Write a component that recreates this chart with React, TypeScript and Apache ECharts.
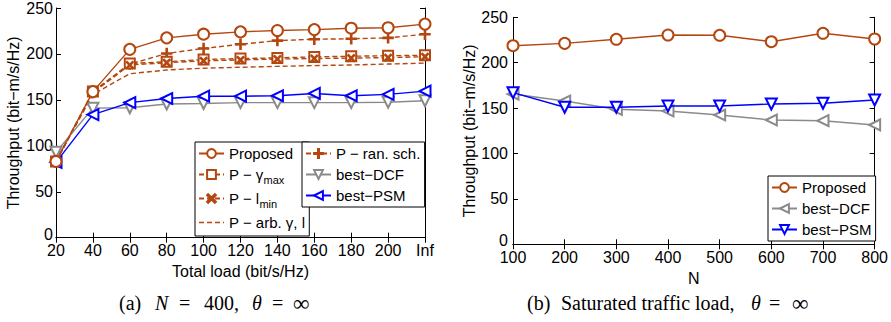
import React, { useEffect, useRef } from "react";
import * as echarts from "echarts";

// ---------- data ----------
const loadCats = ["20", "40", "60", "80", "100", "120", "140", "160", "180", "200", "Inf"];
const proposedA = [83, 159, 205, 217.5, 221.5, 224, 225.5, 226.5, 228, 228.5, 232.5];
const gammaMaxA = [83, 159, 189.5, 191.5, 194, 195, 195.7, 196.8, 197.5, 198, 198.6];
const lMinA = [83, 158, 188, 190.5, 192.5, 193.5, 194.5, 195, 195.5, 196, 197];
const arbA = [83, 156, 178.5, 182.5, 184.5, 185.5, 186.5, 187.3, 188, 189, 190];
const ranSchA = [83, 158, 189, 200.5, 206, 210.5, 214.5, 216, 216.5, 217.5, 221.5];
const dcfA = [93, 141, 141.5, 145.5, 146, 147, 147, 147, 147, 147.5, 149];
const psmA = [82, 134, 147, 151.5, 154, 154, 154.5, 157, 154.5, 156, 159.5];

const nValues = [100, 200, 300, 400, 500, 600, 700, 800];
const proposedB = [218.7, 221.3, 225.8, 230.5, 230.2, 223.1, 232.4, 226.1];
const dcfB = [165.5, 157.8, 148.7, 146.8, 142.4, 136.9, 136.1, 131.4];
const psmB = [167, 150.9, 150.9, 152.3, 152.3, 154.5, 155.3, 158.9];

const yTicks = { min: 0, max: 250, interval: 50 };

const NAME_PROP = "Proposed";
const NAME_GMAX = "P − γmax";
const NAME_LMIN = "P − lmin";
const NAME_ARB = "P − arb. γ, l";
const NAME_RAN = "P − ran. sch.";
const NAME_DCF = "best−DCF";
const NAME_PSM = "best−PSM";

const BROWN = "#b3470f";
const GRAY = "#8a8a8a";
const BLUE = "#0000ff";
const SANS = "'Liberation Sans', Arial, sans-serif";
const SERIF = "'Liberation Serif', 'Times New Roman', serif";

const X_MARK = "path://M0,1.2L1.2,0L5,3.8L8.8,0L10,1.2L6.2,5L10,8.8L8.8,10L5,6.2L1.2,10L0,8.8L3.8,5Z";
const PLUS_MARK = "path://M4.4,0H5.6V4.4H10V5.6H5.6V10H4.4V5.6H0V4.4H4.4Z";
const DASH_ICON =
  "path://M0,0h0.01v0.01h-0.01z M25,11h0.01v0.01h-0.01z M0,4.8h5v1.4H0z M8,4.8h5v1.4H8z M16,4.8h5v1.4h-5z M24,4.8h1v1.4h-1z";

export default function App() {
  const ref = useRef<HTMLDivElement>(null);
  useEffect(() => {
    if (!ref.current) return;
    const chart = echarts.init(ref.current, null, { renderer: "svg" });

    const axisLine = { show: true, lineStyle: { color: "#000", width: 1 } };
    const tickIn = { show: true, inside: true, length: 5, lineStyle: { color: "#000" } };
    const lbl = { color: "#000", fontSize: 16, fontFamily: SANS };
    const yLbl = {
      ...lbl,
      formatter: (v: number) => (v === 0 ? "{z|0}" : String(v)),
      rich: { z: { color: "#000", fontSize: 16, fontFamily: SANS, padding: [0, 0, 7, 0] } },
    };
    const nameStyle = { color: "#000", fontSize: 16, fontFamily: SANS };

    const legendBase = {
      orient: "vertical" as const,
      backgroundColor: "#fff",
      borderColor: "#000",
      borderWidth: 1,
      borderRadius: 0,
      itemWidth: 25,
      itemHeight: 11,
      itemGap: 6,
      textStyle: {
        color: "#000",
        fontSize: 15,
        fontFamily: SANS,
        rich: {
          t: { fontSize: 15, fontFamily: SANS, color: "#000" },
          s: { fontSize: 11, fontFamily: SANS, color: "#000", padding: [10, 0, 0, 0] },
        },
      },
      formatter: (name: string) => {
        if (name === NAME_GMAX) return "{t|P − γ}{s|max}";
        if (name === NAME_LMIN) return "{t|P − l}{s|min}";
        return name.trim();
      },
    };

    const lineS = (
      name: string,
      data: any[],
      color: string,
      symbol: string,
      opts: any = {}
    ) => ({
      name,
      type: "line",
      data,
      symbol,
      symbolSize: opts.size ?? 11,
      symbolRotate: opts.rotate ?? 0,
      showSymbol: symbol !== "none",
      xAxisIndex: opts.xi ?? 0,
      yAxisIndex: opts.yi ?? 0,
      z: opts.z ?? 2,
      lineStyle: { color, width: 1.4, type: opts.dash ? [5, 3] : "solid" },
      itemStyle: { color, borderColor: color, borderWidth: 1.4 },
      emphasis: { disabled: true },
    });

    const cap = (text: string, x: number, italic = false, size = 20) => ({
      type: "text",
      x,
      y: 303,
      style: {
        text,
        align: "left",
        verticalAlign: "middle",
        fontFamily: SERIF,
        fontSize: size,
        fontStyle: italic ? "italic" : "normal",
        fill: "#000",
      },
    });

    const option: any = {
      animation: false,
      backgroundColor: "#fff",
      grid: [
        { left: 56, right: 466, top: 7.5, bottom: 84.3 },
        { left: 513, right: 10, top: 17.3, bottom: 77.7 },
      ],
      xAxis: [
        {
          type: "category",
          gridIndex: 0,
          data: loadCats,
          boundaryGap: false,
          axisLine,
          axisTick: { ...tickIn, alignWithLabel: true },
          axisLabel: { ...lbl, margin: 5, interval: 0 },
          splitLine: { show: false },
          name: "Total load (bit/s/Hz)",
          nameLocation: "middle",
          nameGap: 20,
          nameTextStyle: nameStyle,
        },
        {
          type: "category",
          gridIndex: 0,
          position: "top",
          data: loadCats,
          boundaryGap: false,
          axisLine,
          axisTick: tickIn,
          axisLabel: { show: false },
          splitLine: { show: false },
        },
        {
          type: "value",
          gridIndex: 1,
          min: 100,
          max: 800,
          interval: 100,
          axisLine,
          axisTick: tickIn,
          axisLabel: { ...lbl, margin: 5 },
          splitLine: { show: false },
          name: "N",
          nameLocation: "middle",
          nameGap: 21,
          nameTextStyle: nameStyle,
        },
        {
          type: "value",
          gridIndex: 1,
          position: "top",
          min: 100,
          max: 800,
          interval: 100,
          axisLine,
          axisTick: tickIn,
          axisLabel: { show: false },
          splitLine: { show: false },
        },
      ],
      yAxis: [
        {
          type: "value",
          gridIndex: 0,
          ...yTicks,
          axisLine,
          axisTick: tickIn,
          axisLabel: { ...yLbl, margin: 3 },
          splitLine: { show: false },
          name: "Throughput (bit−m/s/Hz)",
          nameLocation: "middle",
          nameGap: 35,
          nameTextStyle: nameStyle,
        },
        {
          type: "value",
          gridIndex: 0,
          position: "right",
          ...yTicks,
          axisLine,
          axisTick: tickIn,
          axisLabel: { show: false },
          splitLine: { show: false },
        },
        {
          type: "value",
          gridIndex: 1,
          ...yTicks,
          axisLine,
          axisTick: tickIn,
          axisLabel: { ...yLbl, margin: 5 },
          splitLine: { show: false },
          name: "Throughput (bit−m/s/Hz)",
          nameLocation: "middle",
          nameGap: 33,
          nameTextStyle: nameStyle,
        },
        {
          type: "value",
          gridIndex: 1,
          position: "right",
          ...yTicks,
          axisLine,
          axisTick: tickIn,
          axisLabel: { show: false },
          splitLine: { show: false },
        },
      ],
      legend: [
        {
          ...legendBase,
          left: 195,
          top: 142,
          padding: [4, 4, 6, 3],
          data: [
            NAME_PROP,
            NAME_GMAX,
            NAME_LMIN,
            { name: NAME_ARB, icon: DASH_ICON, itemStyle: { borderWidth: 0, color: BROWN } },
          ],
        },
        {
          ...legendBase,
          left: 302,
          top: 142,
          padding: [4, 4, 4, 3],
          data: [NAME_RAN, NAME_DCF, NAME_PSM],
        },
        {
          ...legendBase,
          left: 768,
          top: 176,
          padding: [4, 4, 4, 3],
          data: [NAME_PROP + " ", NAME_DCF + " ", NAME_PSM + " "],
        },
      ],
      series: [
        lineS(NAME_ARB, arbA, BROWN, "none", { dash: true }),
        lineS(NAME_RAN, ranSchA, BROWN, PLUS_MARK, { dash: true, size: 10 }),
        lineS(NAME_GMAX, gammaMaxA, BROWN, "emptyRect", { dash: true, size: 10 }),
        lineS(NAME_LMIN, lMinA, BROWN, X_MARK, { dash: true, size: 7 }),
        lineS(NAME_DCF, dcfA, GRAY, "emptyTriangle", { rotate: 180, size: 11 }),
        lineS(NAME_PSM, psmA, BLUE, "emptyTriangle", { rotate: 90, size: 11, z: 3 }),
        lineS(NAME_PROP, proposedA, BROWN, "emptyCircle", { size: 11, z: 4 }),
        lineS(NAME_PROP + " ", nValues.map((n, i) => [n, proposedB[i]]), BROWN, "emptyCircle", { xi: 2, yi: 2, size: 11 }),
        lineS(NAME_DCF + " ", nValues.map((n, i) => [n, dcfB[i]]), GRAY, "emptyTriangle", { xi: 2, yi: 2, rotate: 90, size: 11 }),
        lineS(NAME_PSM + " ", nValues.map((n, i) => [n, psmB[i]]), BLUE, "emptyTriangle", { xi: 2, yi: 2, rotate: 180, size: 11, z: 3 }),
      ],
      graphic: [
        cap("(a)", 119),
        cap("N", 155, true),
        cap("=", 179),
        cap("400,", 204),
        cap("θ", 252, true),
        cap("=", 272),
        cap("∞", 293, false, 23),
        cap("(b)", 527),
        cap("Saturated traffic load,", 561),
        cap("θ", 751, true),
        cap("=", 769),
        cap("∞", 792, false, 23),
      ],
    };

    chart.setOption(option);
    return () => chart.dispose();
  }, []);

  return (
    <div
      ref={ref}
      style={{ position: "fixed", left: 0, top: 0, width: 891, height: 322, background: "#fff" }}
    />
  );
}
